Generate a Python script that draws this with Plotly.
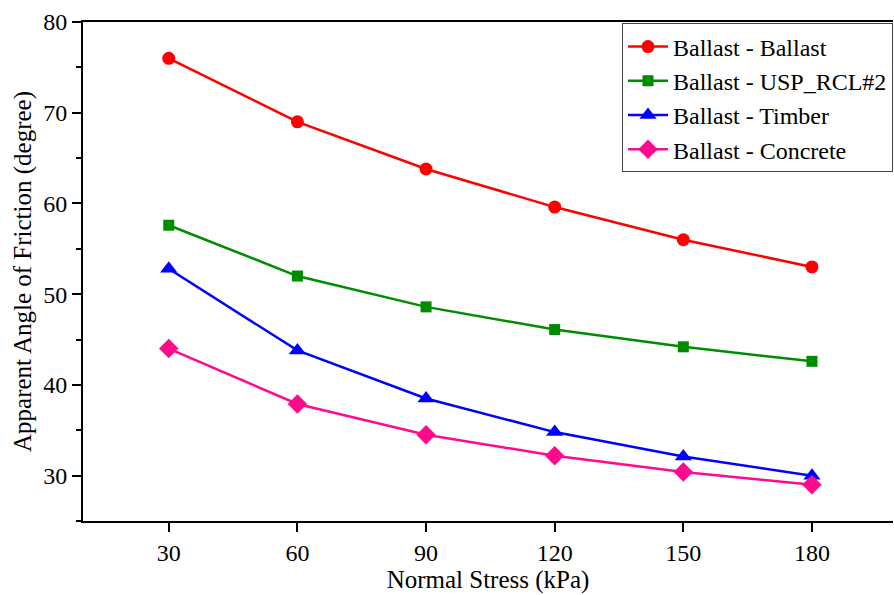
import plotly.graph_objects as go

stress = [30, 60, 90, 120, 150, 180]
ballast_ballast = [76.0, 69.0, 63.8, 59.6, 56.0, 53.0]
ballast_usp = [57.6, 52.0, 48.6, 46.1, 44.2, 42.6]
ballast_timber = [52.8, 43.8, 38.5, 34.8, 32.1, 30.0]
ballast_concrete = [44.0, 37.9, 34.5, 32.2, 30.4, 29.0]

names = ["Ballast - Ballast", "Ballast - USP_RCL#2", "Ballast - Timber", "Ballast - Concrete"]
series = [ballast_ballast, ballast_usp, ballast_timber, ballast_concrete]
colors = ["#FF0000", "#008C00", "#0000FF", "#FF0A8C"]
symbols = ["circle", "square", "triangle-up", "diamond"]
sizes = [13, 11, 15, 15]

FONT = "Liberation Serif"

fig = go.Figure()
for n, s, c, sym, sz in zip(names, series, colors, symbols, sizes):
    fig.add_trace(go.Scatter(
        x=stress, y=s, name=n, mode="lines+markers",
        line=dict(color=c, width=2.5),
        marker=dict(symbol=sym, size=sz, color=c, line=dict(width=0)),
    ))

fig.update_layout(
    width=894, height=595,
    margin=dict(l=83, r=1, t=22, b=74),
    plot_bgcolor="white", paper_bgcolor="white",
    font=dict(family=FONT, size=24, color="black"),
    showlegend=True,
    legend=dict(
        x=1.0, xanchor="right", y=0.997, yanchor="top",
        bordercolor="#444444", borderwidth=1, bgcolor="white",
        font=dict(family=FONT, size=24, color="black"),
        tracegroupgap=0, itemwidth=40,
    ),
    xaxis=dict(
        range=[10, 198.9], tickvals=stress, ticktext=[str(v) for v in stress],
        showgrid=False, zeroline=False,
        showline=True, linecolor="black", linewidth=2, mirror=True,
        ticks="outside", ticklen=9, tickwidth=2, tickcolor="black",
        tickfont=dict(family=FONT, size=24),
        title=dict(text="Normal Stress (kPa)", font=dict(family=FONT, size=25), standoff=6),
    ),
    yaxis=dict(
        range=[25, 80], tickvals=[30, 40, 50, 60, 70, 80],
        showgrid=False, zeroline=False,
        showline=True, linecolor="black", linewidth=2, mirror=False,
        ticks="outside", ticklen=9, tickwidth=2, tickcolor="black",
        tickfont=dict(family=FONT, size=24),
        minor=dict(tickvals=[25, 35, 45, 55, 65, 75], ticks="outside", ticklen=5, tickwidth=2, tickcolor="black"),
        title=dict(text="Apparent Angle of Friction (degree)", font=dict(family=FONT, size=25), standoff=4),
    ),
)

fig.write_html("out.html")
